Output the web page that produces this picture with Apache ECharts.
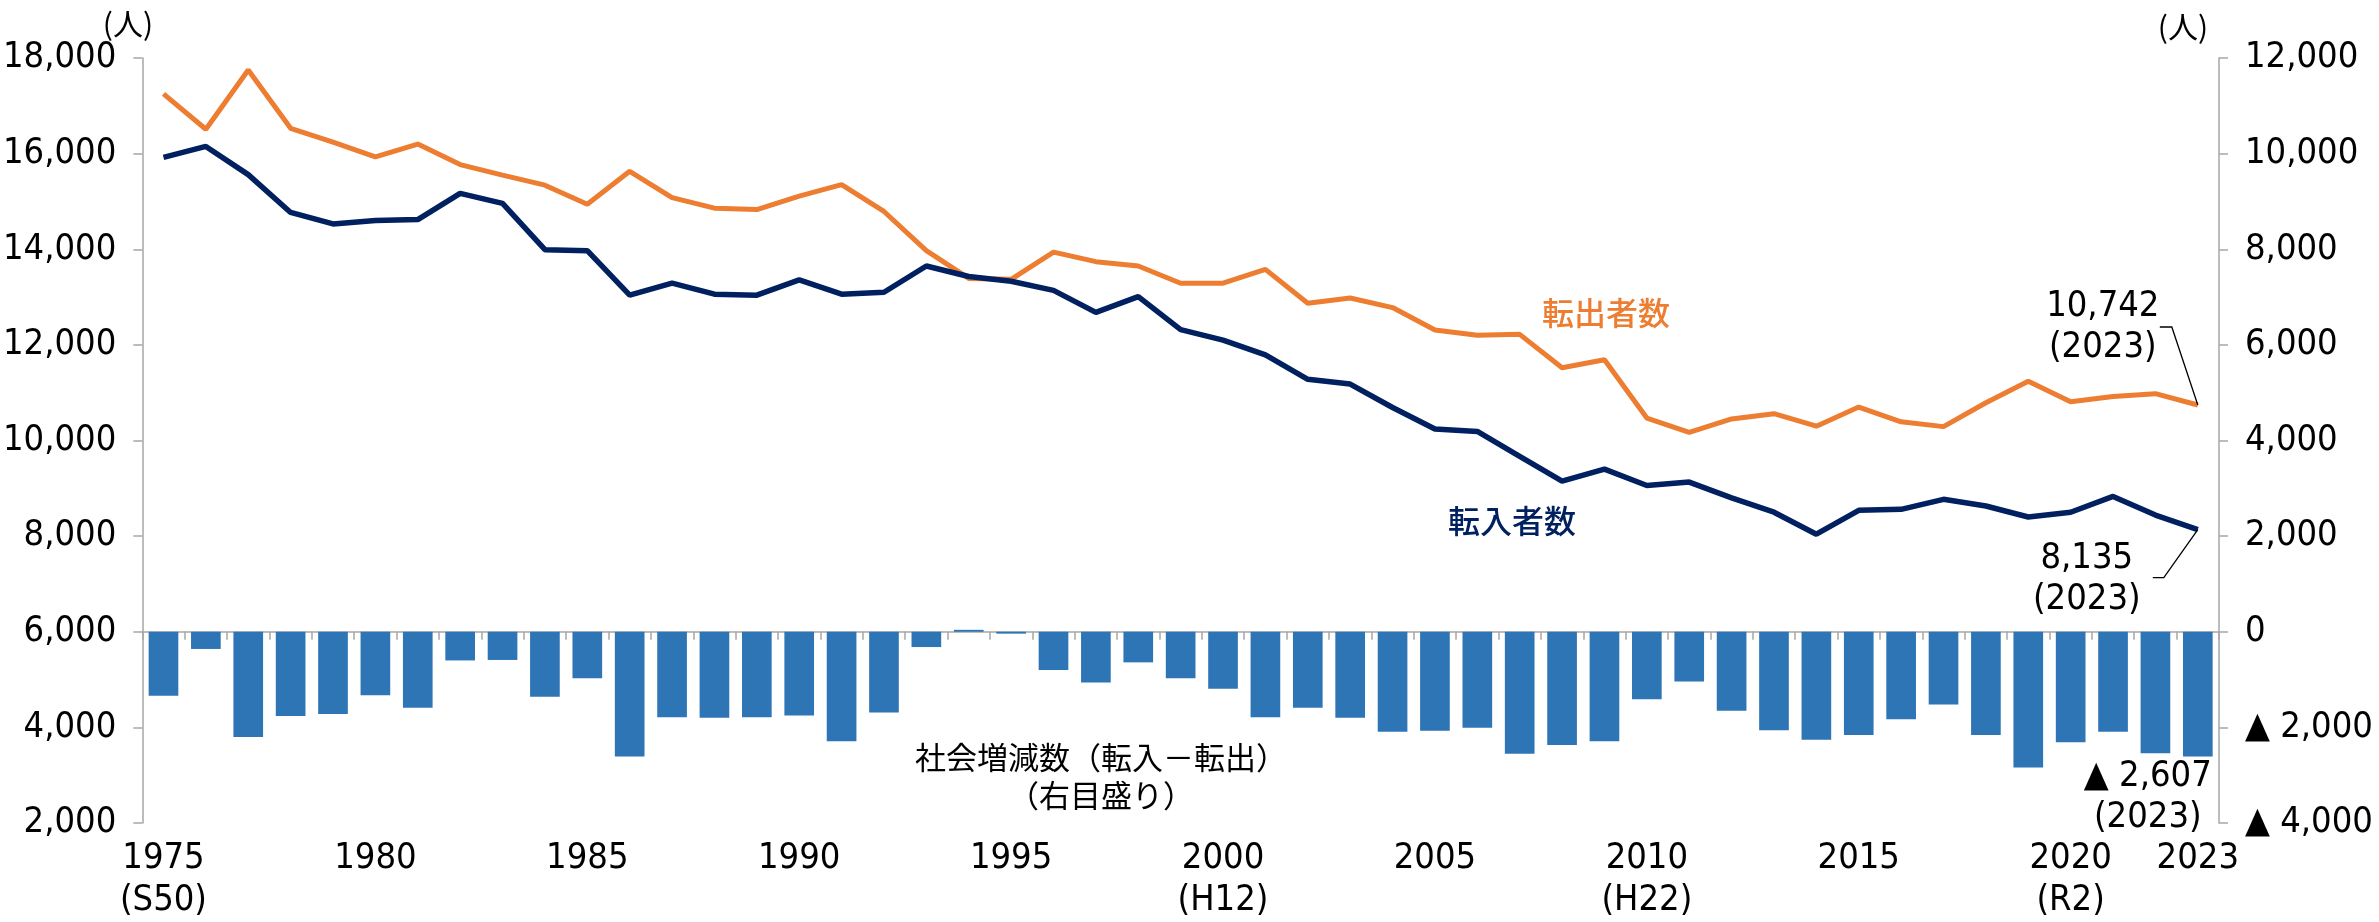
<!DOCTYPE html>
<html lang="ja">
<head>
<meta charset="utf-8">
<title>転入者数・転出者数・社会増減数</title>
<script src="https://cdn.jsdelivr.net/npm/echarts@6/dist/echarts.min.js"></script>
<style>
  html, body { margin: 0; padding: 0; background: #fff; }
  #chart { width: 2379px; height: 922px; }
</style>
</head>
<body>
<div id="chart"></div>
<script>
// 年（カテゴリ）
const years = [
  '1975', '1976', '1977', '1978', '1979', '1980', '1981', '1982', '1983', '1984',
  '1985', '1986', '1987', '1988', '1989', '1990', '1991', '1992', '1993', '1994',
  '1995', '1996', '1997', '1998', '1999', '2000', '2001', '2002', '2003', '2004',
  '2005', '2006', '2007', '2008', '2009', '2010', '2011', '2012', '2013', '2014',
  '2015', '2016', '2017', '2018', '2019', '2020', '2021', '2022', '2023'
];

// 転入者数（左目盛り）
const inflow = [
  15920, 16150, 15560, 14770, 14530, 14600, 14620, 15170, 14960, 13990,
  13970, 13040, 13290, 13060, 13040, 13360, 13060, 13100, 13650, 13430,
  13330, 13140, 12680, 13010, 12320, 12100, 11790, 11280, 11180, 10690,
  10240, 10190, 9670, 9150, 9400, 9060, 9130, 8800, 8500, 8040,
  8540, 8560, 8770, 8630, 8400, 8500, 8830, 8440, 8135
];

// 転出者数（左目盛り）
const outflow = [
  17250, 16510, 17750, 16530, 16240, 15930, 16200, 15770, 15550, 15340,
  14940, 15630, 15080, 14860, 14830, 15110, 15350, 14790, 13970, 13390,
  13370, 13940, 13740, 13650, 13290, 13290, 13580, 12870, 12980, 12780,
  12310, 12200, 12220, 11520, 11690, 10470, 10170, 10450, 10560, 10300,
  10700, 10390, 10290, 10790, 11240, 10810, 10920, 10980, 10742
];

// 社会増減数（右目盛り）
const netChange = [
  -1340, -360, -2200, -1760, -1720, -1330, -1590, -600, -590, -1360,
  -970, -2610, -1790, -1800, -1790, -1750, -2290, -1690, -320, 40,
  -40, -800, -1060, -640, -970, -1190, -1790, -1590, -1800, -2090,
  -2070, -2010, -2550, -2370, -2290, -1410, -1040, -1650, -2060, -2260,
  -2160, -1830, -1520, -2160, -2840, -2310, -2090, -2540, -2607
];

// 目盛りラベル
const xTickLabels = ['1975', '1980', '1985', '1990', '1995', '2000', '2005', '2010', '2015', '2020', '2023'];
const eraYears = ['1975', '2000', '2010', '2020'];
const eraNames = ['(S50)', '(H12)', '(H22)', '(R2)'];

const NUM_FONT = "'Liberation Sans Narrow', 'DejaVu Sans Condensed', 'Noto Sans CJK JP', sans-serif";
const JP_FONT = "'Noto Sans CJK JP', sans-serif";
const AXIS_COLOR = '#a6a6a6';

function fmt(v) {
  return Math.abs(v).toLocaleString('en-US');
}

const myChart = echarts.init(document.getElementById('chart'));

const option = {
  animation: false,
  backgroundColor: '#fff',
  tooltip: { trigger: 'axis' },
  grid: { left: 136, right: 160, top: 58, bottom: 98 },
  xAxis: [
    {
      // 0 の位置の横線と目盛り
      type: 'category',
      data: years,
      position: 'bottom',
      axisLine: {
        onZero: true,
        onZeroAxisIndex: 1,
        lineStyle: { color: AXIS_COLOR, width: 1.5 }
      },
      axisTick: { show: true, interval: 0, length: 8, lineStyle: { color: AXIS_COLOR, width: 1.5 } },
      axisLabel: { show: false }
    },
    {
      // 下端の年ラベル
      type: 'category',
      data: years,
      position: 'bottom',
      axisLine: { show: false, onZero: false },
      axisTick: { show: false },
      axisLabel: {
        interval: function (idx, value) {
          return xTickLabels.indexOf(value) >= 0;
        },
        formatter: function (value) {
          const i = eraYears.indexOf(value);
          return i >= 0 ? value + '\n' + eraNames[i] : value;
        },
        color: '#000',
        fontFamily: NUM_FONT,
        fontSize: 36,
        lineHeight: 42,
        margin: 15
      }
    }
  ],
  yAxis: [
    {
      type: 'value',
      position: 'left',
      min: 2000,
      max: 18000,
      interval: 2000,
      axisLine: { show: true, lineStyle: { color: AXIS_COLOR, width: 1.5 } },
      axisTick: { show: true, length: 9, lineStyle: { color: AXIS_COLOR, width: 1.5 } },
      splitLine: { show: false },
      axisLabel: {
        color: '#000',
        fontFamily: NUM_FONT,
        fontSize: 36,
        margin: 26,
        formatter: function (v) { return fmt(v); }
      }
    },
    {
      type: 'value',
      position: 'right',
      min: -4000,
      max: 12000,
      interval: 2000,
      axisLine: { show: true, lineStyle: { color: AXIS_COLOR, width: 1.5 } },
      axisTick: { show: true, length: 9, lineStyle: { color: AXIS_COLOR, width: 1.5 } },
      splitLine: { show: false },
      axisLabel: {
        color: '#000',
        fontFamily: NUM_FONT,
        fontSize: 36,
        margin: 26,
        formatter: function (v) {
          return v < 0 ? '▲ ' + fmt(v) : fmt(v);
        }
      }
    }
  ],
  series: [
    {
      name: '社会増減数',
      type: 'bar',
      xAxisIndex: 0,
      yAxisIndex: 1,
      data: netChange,
      barWidth: '70%',
      itemStyle: { color: '#2E75B6' },
      z: 2
    },
    {
      name: '転出者数',
      type: 'line',
      xAxisIndex: 0,
      yAxisIndex: 0,
      data: outflow,
      symbol: 'none',
      lineStyle: { color: '#ED7D31', width: 5 },
      itemStyle: { color: '#ED7D31' },
      z: 3
    },
    {
      name: '転入者数',
      type: 'line',
      xAxisIndex: 0,
      yAxisIndex: 0,
      data: inflow,
      symbol: 'none',
      lineStyle: { color: '#002060', width: 5.5 },
      itemStyle: { color: '#002060' },
      z: 4
    }
  ]
};

myChart.setOption(option);

// 注記（最終年の値に引き出し線）
const last = years.length - 1;
const pOut = myChart.convertToPixel({ seriesIndex: 1 }, [last, outflow[last]]);
const pIn = myChart.convertToPixel({ seriesIndex: 2 }, [last, inflow[last]]);
const pNet = myChart.convertToPixel({ seriesIndex: 0 }, [last, netChange[last]]);

function note(text, x, y, color, font, lh) {
  return {
    type: 'text',
    z: 10,
    style: {
      text: text,
      x: x,
      y: y,
      fill: color,
      font: font,
      textAlign: 'center',
      textVerticalAlign: 'middle',
      lineHeight: lh
    }
  };
}

function leader(points) {
  return {
    type: 'polyline',
    z: 10,
    shape: { points: points },
    style: { stroke: '#000', lineWidth: 1.3, fill: null }
  };
}

myChart.setOption({
  graphic: [
    note('(人)', 128, 24, '#000', '30px ' + JP_FONT, 34),
    note('(人)', 2183, 27, '#000', '30px ' + JP_FONT, 34),
    note('転出者数', 1606, 313, '#ED7D31', '500 32px ' + JP_FONT, 36),
    note('転入者数', 1512, 521, '#002060', '500 32px ' + JP_FONT, 36),
    note('社会増減数（転入－転出）\n（右目盛り）', 1101, 776, '#000', '31px ' + JP_FONT, 38),
    note(fmt(outflow[last]) + '\n(' + years[last] + ')', pOut[0] - 95, pOut[1] - 78, '#000', '36px ' + NUM_FONT, 41),
    leader([[pOut[0], pOut[1]], [pOut[0] - 26, pOut[1] - 78], [pOut[0] - 38, pOut[1] - 78]]),
    note(fmt(inflow[last]) + '\n(' + years[last] + ')', pIn[0] - 111, pIn[1] + 49, '#000', '36px ' + NUM_FONT, 41),
    leader([[pIn[0], pIn[1]], [pIn[0] - 34, pIn[1] + 48], [pIn[0] - 45, pIn[1] + 48]]),
    note('▲ ' + fmt(netChange[last]) + '\n(' + years[last] + ')', pNet[0] - 50, pNet[1] + 41, '#000', '36px ' + NUM_FONT, 41)
  ]
});
</script>
</body>
</html>
